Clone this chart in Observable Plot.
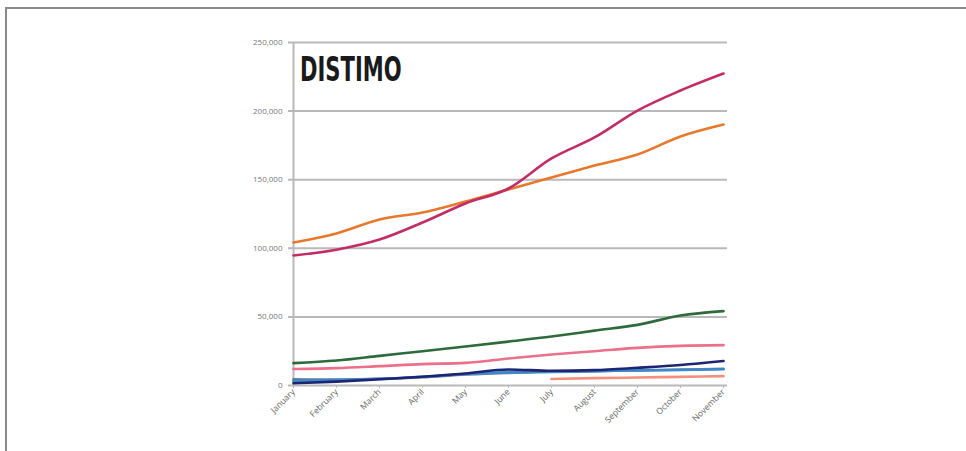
<!DOCTYPE html>
<html>
<head>
<meta charset="utf-8">
<script src="https://cdn.jsdelivr.net/npm/d3@7"></script>
<script src="https://cdn.jsdelivr.net/npm/@observablehq/plot@0.6"></script>
<style>
  html, body { margin: 0; padding: 0; background: #fff; }
  #wrap { position: relative; width: 966px; height: 451px; overflow: hidden; }
  #frame { position: absolute; left: 5px; top: 7px; width: 970px; height: 460px;
           border-top: 2px solid #8a8a8a; border-left: 2px solid #8a8a8a; box-sizing: border-box; }
  #chart { position: absolute; left: 0; top: 0; }
  #logo { position: absolute; left: 300px; top: 49px; font-family: "DejaVu Sans", sans-serif; font-weight: bold;
          font-size: 34px; line-height: 40px; color: #1a1a1a; transform: scaleX(0.62); transform-origin: left top; }
</style>
</head>
<body>
<div id="wrap"><div id="frame"></div><div id="chart"></div><div id="logo">DISTIMO</div></div>
<script>
const months = ["January","February","March","April","May","June","July","August","September","October","November"];
const yTicks = [0, 50000, 100000, 150000, 200000, 250000];

const magenta = [94800, 99000, 106400, 118800, 132700, 143600, 165500, 180800, 200400, 215000, 227400];
const orange  = [104200, 110800, 121000, 126100, 134100, 142900, 151600, 160300, 168400, 181500, 190200];
const green   = [16300, 18200, 21600, 25000, 28400, 32000, 35700, 40000, 44200, 51000, 54200];
const pink    = [12000, 12700, 14100, 15600, 16500, 19700, 22600, 25000, 27400, 28900, 29400];
const slate   = [4500, 4300, 4800, 6000, 8000, 9200, 9800, 10400, 11000, 11600, 12200];
const blue    = [3200, 4000, 4900, 6400, 8400, 9600, 10100, 10500, 11000, 11300, 11800];
const navy    = [1600, 2800, 4500, 6400, 8800, 11700, 10700, 11200, 12900, 14900, 17800];
const salmon  = [null, null, null, null, null, null, 4700, 5400, 5800, 6300, 6800];

const seriesList = [
  {name: "salmon", values: salmon, color: "#f2907c"},
  {name: "slate", values: slate, color: "#5f7f9c"},
  {name: "blue", values: blue, color: "#3d88cc"},
  {name: "navy", values: navy, color: "#1d2470"},
  {name: "pink", values: pink, color: "#ec6f8c"},
  {name: "green", values: green, color: "#2d6a3c"},
  {name: "orange", values: orange, color: "#e8782c"},
  {name: "magenta", values: magenta, color: "#c22d66"}
];

const rows = [];
for (const s of seriesList) {
  s.values.forEach((v, i) => { if (v != null) rows.push({series: s.name, month: months[i], value: v}); });
}

const chart = Plot.plot({
  width: 966,
  height: 451,
  marginLeft: 288,
  marginRight: 239,
  marginTop: 42,
  marginBottom: 66,
  style: {fontFamily: "Open Sans, sans-serif", background: "transparent"},
  x: {type: "point", domain: months, padding: 0, label: null},
  y: {domain: [0, 250000], label: null},
  color: {domain: seriesList.map(s => s.name), range: seriesList.map(s => s.color)},
  marks: [
    Plot.gridY(yTicks, {stroke: "#b9b9b9", strokeWidth: 2, strokeOpacity: 1}),
    Plot.ruleX([months[0]], {stroke: "#b9b9b9", strokeWidth: 2, y1: 0, y2: 250000}),
    Plot.axisY(yTicks, {tickFormat: d3.format(","), tickSize: 0, tickPadding: 6, fontSize: 8, fill: "#777", label: null}),
    Plot.axisX(months, {tickRotate: -45, tickSize: 3, stroke: "#b9b9b9", tickPadding: 2, fontSize: 8.5, fill: "#666", label: null}),
    Plot.line(rows, {x: "month", y: "value", z: "series", stroke: "series", strokeWidth: 2.6, curve: "monotone-x"})
  ]
});
document.getElementById("chart").appendChild(chart);
</script>
</body>
</html>
